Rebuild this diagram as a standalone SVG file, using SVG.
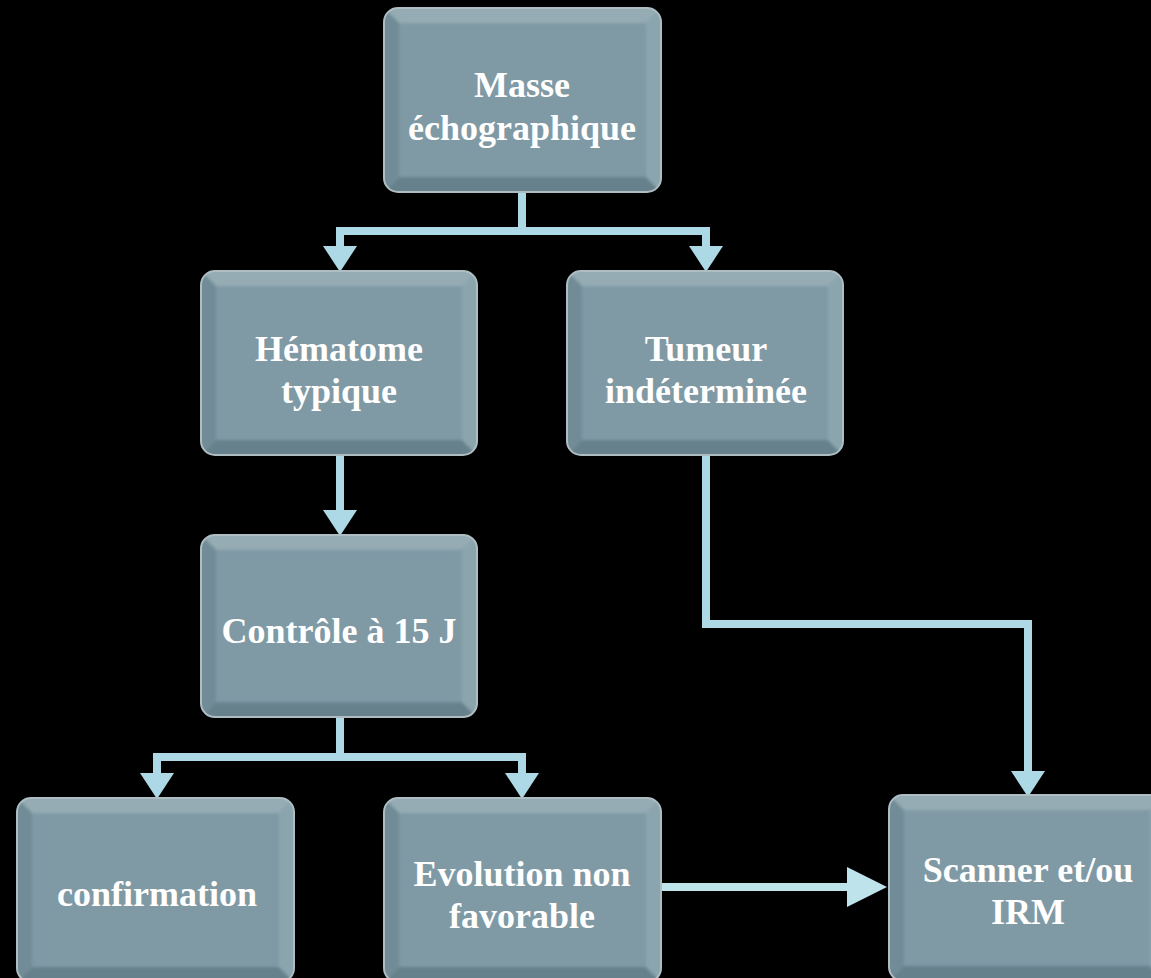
<svg xmlns="http://www.w3.org/2000/svg" width="1151" height="978" viewBox="0 0 1151 978">
  <style>
    .lbl { font-family: "Liberation Serif", "Times New Roman", serif; font-weight: bold; font-size: 36px; fill: #ffffff; text-anchor: middle; }
    .wire { fill: none; stroke: #add8e6; stroke-width: 8; stroke-linejoin: miter; }
    .wire2 { fill: none; stroke: #bfe3ea; stroke-width: 8; }
  </style>
  <defs>
    <clipPath id="bclip">
      <rect x="1" y="1" width="276" height="184" rx="14" ry="14"/>
    </clipPath>
    <filter id="soft" x="-5%" y="-5%" width="110%" height="110%">
      <feGaussianBlur stdDeviation="1.4"/>
    </filter>
    <!-- bevelled rounded box, stretched per node -->
    <symbol id="box" viewBox="0 0 278 186" preserveAspectRatio="none">
      <g clip-path="url(#bclip)">
        <rect x="0" y="0" width="278" height="186" fill="#7d98a3"/>
        <g filter="url(#soft)">
          <polygon points="0,0 278,0 262,16 16,16" fill="#95acb4"/>
          <polygon points="0,186 278,186 262,170 16,170" fill="#66818c"/>
          <polygon points="0,0 16,16 16,170 0,186" fill="#718c97"/>
          <polygon points="278,0 262,16 262,170 278,186" fill="#8ba5ae"/>
          <rect x="16" y="16" width="246" height="154" fill="#7f9aa5"/>
        </g>
      </g>
      <rect x="1" y="1" width="276" height="184" rx="14" ry="14" fill="none" stroke="#aebdc2" stroke-width="2"/>
    </symbol>
    <marker id="head" markerUnits="userSpaceOnUse" markerWidth="26" markerHeight="34" viewBox="0 0 26 34" refX="12" refY="17" orient="auto">
      <path d="M0,0 L26,17 L0,34 Z" fill="#add8e6"/>
    </marker>
    <marker id="headBig" markerUnits="userSpaceOnUse" markerWidth="40" markerHeight="40" viewBox="0 0 40 40" refX="20" refY="20" orient="auto">
      <path d="M0,0 L40,20 L0,40 Z" fill="#bfe3ea"/>
    </marker>
  </defs>

  <rect x="0" y="0" width="1151" height="978" fill="#000000"/>

  <g id="connectors">
    <!-- Masse -> Hématome / Tumeur -->
    <path class="wire" d="M522,193 V231 H340 V258" marker-end="url(#head)"/>
    <path class="wire" d="M522,231 H706 V258" marker-end="url(#head)"/>
    <!-- Hématome -> Contrôle -->
    <path class="wire" d="M340,456 V522" marker-end="url(#head)"/>
    <!-- Contrôle -> confirmation / Evolution -->
    <path class="wire" d="M340,718 V757 H157 V785" marker-end="url(#head)"/>
    <path class="wire" d="M340,757 H522 V785" marker-end="url(#head)"/>
    <!-- Tumeur -> Scanner -->
    <path class="wire" d="M706,456 V624 H1028 V783" marker-end="url(#head)"/>
    <!-- Evolution -> Scanner -->
    <path class="wire2" d="M662,887 H867" marker-end="url(#headBig)"/>
  </g>

  <g id="node-masse">
    <use href="#box" x="383" y="7" width="279" height="186"/>
    <text class="lbl" x="522" y="97">Masse</text>
    <text class="lbl" x="522" y="140">échographique</text>
  </g>
  <g id="node-hematome">
    <use href="#box" x="200" y="270" width="278" height="186"/>
    <text class="lbl" x="339" y="361">Hématome</text>
    <text class="lbl" x="339" y="403">typique</text>
  </g>
  <g id="node-tumeur">
    <use href="#box" x="566" y="270" width="278" height="186"/>
    <text class="lbl" x="706" y="361">Tumeur</text>
    <text class="lbl" x="706" y="403">indéterminée</text>
  </g>
  <g id="node-controle">
    <use href="#box" x="200" y="534" width="278" height="184"/>
    <text class="lbl" x="339" y="643">Contrôle à 15 J</text>
  </g>
  <g id="node-confirmation">
    <use href="#box" x="16" y="797" width="279" height="186"/>
    <text class="lbl" x="157" y="906">confirmation</text>
  </g>
  <g id="node-evolution">
    <use href="#box" x="383" y="797" width="279" height="186"/>
    <text class="lbl" x="522" y="886">Evolution non</text>
    <text class="lbl" x="522" y="928">favorable</text>
  </g>
  <g id="node-scanner">
    <use href="#box" x="888" y="794" width="278" height="188"/>
    <text class="lbl" x="1028" y="882">Scanner et/ou</text>
    <text class="lbl" x="1028" y="924">IRM</text>
  </g>
</svg>
